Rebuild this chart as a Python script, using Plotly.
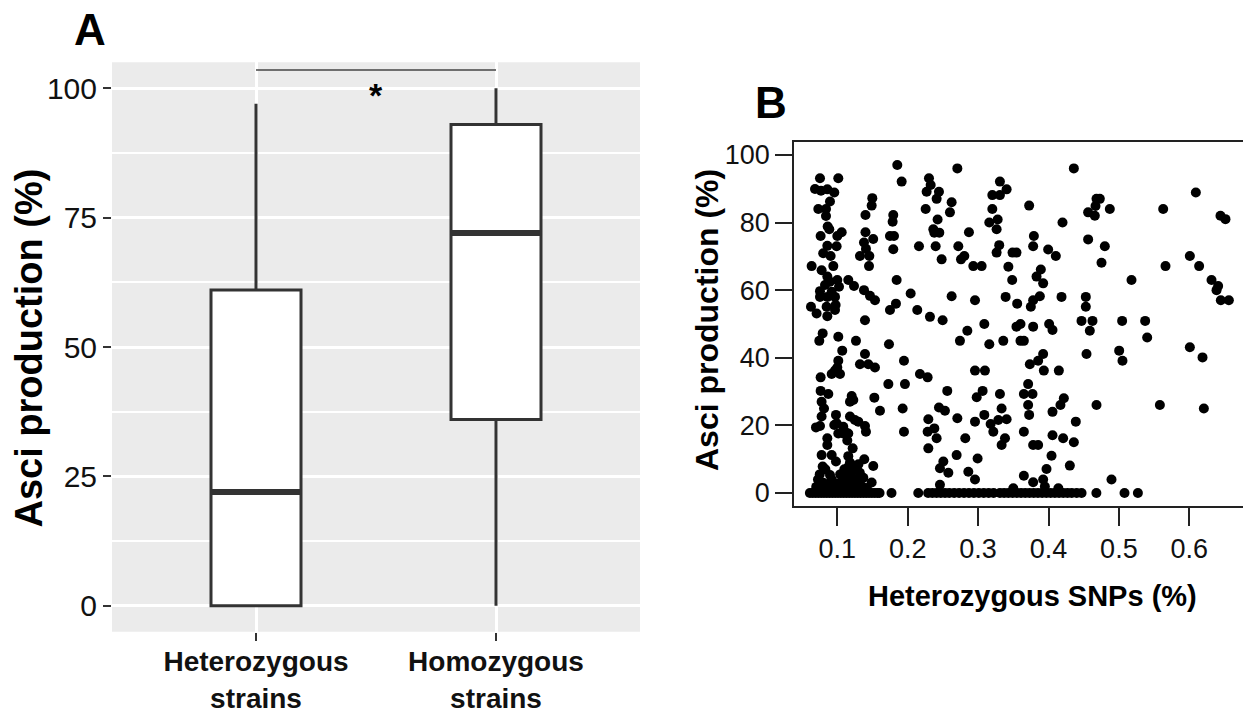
import plotly.graph_objects as go

# ---------------- Panel A data (box plot) ----------------
strain_groups = ["Heterozygous<br>strains", "Homozygous<br>strains"]
box_lower = [0, 0]
box_q1 = [0, 36]
box_median = [22, 72]
box_q3 = [61, 93]
box_upper = [97, 100]
signif_label = "*"
signif_y = 103.5
y_ticks_a = [0, 25, 50, 75, 100]

# ---------------- Panel B data (scatter) ----------------
snp_pct = [
    # upper-left cluster
    0.0754, 0.1014, 0.0683, 0.0768, 0.0858, 0.0957, 0.0896, 0.0730, 0.0839, 0.0839,
    0.0863, 0.0886, 0.0763, 0.1000, 0.1062, 0.0990, 0.0858, 0.0800, 0.0905, 0.0943,
    0.0635, 0.0777, 0.0858, 0.0896, 0.1000, 0.0825, 0.1024, 0.0754, 0.0920, 0.0754,
    0.0858, 0.0967, 0.0626, 0.0706, 0.0858, 0.0967, 0.0848, 0.0976, 0.1156, 0.1237,
    0.1400, 0.1497, 0.1488, 0.1400, 0.1510, 0.1379, 0.1322, 0.1407, 0.1455, 0.1450,
    0.1379, 0.1464, 0.1535, 0.1393,
    0.1852, 0.1914, 0.1795, 0.1786, 0.1748, 0.1805, 0.1795, 0.1843, 0.1833, 0.1748,
    0.2042, 0.2160, 0.2136, 0.2316, 0.2496,
    0.2302, 0.2326, 0.2269, 0.2444, 0.2411, 0.2255, 0.2425, 0.2364, 0.2449, 0.2378,
    0.2397, 0.2482, 0.2624, 0.2600, 0.2705, 0.2870, 0.2719, 0.2804, 0.2757, 0.2932,
    0.3050, 0.2624, 0.2956,
    0.3310, 0.3202, 0.3310, 0.3405, 0.3202, 0.3278, 0.3159, 0.3263, 0.3300, 0.3263,
    0.3430, 0.3391,
    # upper-right
    0.4360, 0.3725, 0.4199, 0.3792, 0.3782, 0.3995, 0.4104, 0.3489, 0.3545, 0.3891,
    0.3830, 0.3924, 0.3484, 0.3555, 0.3877, 0.3782, 0.3749, 0.4185, 0.4530, 0.4530,
    0.4469, 0.4625, 0.5046, 0.5373, 0.4682, 0.4729, 0.4668, 0.4563, 0.4658, 0.4871,
    0.4563, 0.4800, 0.4753, 0.5179, 0.5629, 0.5662, 0.6093, 0.6008, 0.6140, 0.6316,
    0.6410, 0.6387, 0.6448, 0.6562, 0.6443, 0.6514,
    # lower-left
    0.0792, 0.0744, 0.1014, 0.1265, 0.1070, 0.1014, 0.1000, 0.0967, 0.1038, 0.0920,
    0.1393, 0.1322, 0.1440, 0.1535, 0.1734, 0.1947, 0.1725, 0.1961, 0.2174, 0.2283,
    0.1526, 0.1606, 0.0763, 0.0763, 0.0872, 0.0777, 0.0811, 0.0777, 0.0981, 0.0697,
    0.0754, 0.0957, 0.1014, 0.0858, 0.0858, 0.0777, 0.0920, 0.0981, 0.0792, 0.0896,
    0.0725, 0.0848, 0.1204, 0.1227, 0.1180, 0.1180, 0.1250, 0.1298, 0.1393, 0.1407,
    0.1085, 0.1085, 0.1156, 0.1142, 0.1218, 0.1156, 0.1383, 0.1511, 0.1488,
    0.2444, 0.2529, 0.2562, 0.2293, 0.2283, 0.2378, 0.2411, 0.2293, 0.2705, 0.2818,
    0.2695, 0.2506, 0.2458, 0.2577, 0.2993, 0.2861, 0.2956, 0.2458, 0.2956, 0.2980,
    0.3064, 0.2956, 0.3097, 0.3088, 0.3178, 0.3216, 0.3287, 0.3405, 0.3310, 0.3334,
    0.3382, 0.3334, 0.2742, 0.2847, 0.3088, 0.3159, 0.3358,
    0.1100, 0.1150, 0.1200, 0.1250, 0.1200, 0.1150, 0.1300, 0.1080, 0.1260, 0.1320,
    0.1050, 0.1180, 0.1350, 0.1280, 0.1100, 0.0750, 0.0800, 0.0880, 0.0920, 0.0830,
    0.0950, 0.0780, 0.1928, 0.1947, 0.1085, 0.1133, 0.1204, 0.1275, 0.1040, 0.0990,
    0.1370, 0.1420, 0.0700, 0.0860, 0.1160, 0.1300, 0.0991, 0.1109,
    # lower-right
    0.3545, 0.3602, 0.3782, 0.4009, 0.4057, 0.4587, 0.3602, 0.3650, 0.5402, 0.3924,
    0.3853, 0.3735, 0.3934, 0.4147, 0.4540, 0.5004, 0.5051, 0.6008, 0.6188, 0.3711,
    0.3650, 0.3773, 0.3711, 0.3725, 0.4218, 0.4170, 0.4057, 0.4682, 0.5582, 0.6207,
    0.4388, 0.3650, 0.4057, 0.4208, 0.4360, 0.3782, 0.3853, 0.4043, 0.4303, 0.3972,
    0.3650, 0.3782, 0.3924, 0.3948, 0.4895, 0.3500, 0.4140,
    # zero row
    0.061, 0.065, 0.069, 0.073, 0.077, 0.081, 0.085, 0.089, 0.093, 0.097,
    0.101, 0.105, 0.109, 0.113, 0.117, 0.121, 0.125, 0.129, 0.133, 0.137,
    0.141, 0.145, 0.149, 0.153, 0.157, 0.160, 0.177, 0.215,
    0.229, 0.235, 0.241, 0.247, 0.253, 0.259, 0.266, 0.273, 0.280, 0.287,
    0.294, 0.301, 0.308, 0.315, 0.322, 0.331, 0.337, 0.343, 0.349, 0.355,
    0.361, 0.367, 0.373, 0.379, 0.385, 0.391, 0.397, 0.403, 0.409, 0.415,
    0.421, 0.427, 0.433, 0.440, 0.447, 0.468, 0.508, 0.527,
]
asci_pct = [
    93.1, 93.1, 89.9, 89.4, 89.8, 88.9, 86.2, 84.0, 84.0, 81.9,
    78.8, 78.0, 76.0, 76.0, 77.1, 73.0, 73.1, 70.9, 70.1, 67.1,
    67.1, 65.9, 64.0, 62.5, 63.0, 61.5, 61.0, 59.7, 59.5, 58.0,
    58.0, 58.0, 55.1, 53.1, 52.3, 54.1, 55.1, 55.6, 63.0, 61.2,
    82.2, 87.2, 85.0, 77.1, 75.1, 74.1, 70.1, 72.2, 70.1, 67.1,
    60.0, 58.3, 57.0, 51.1,
    97.0, 92.1, 82.2, 80.2, 76.0, 76.0, 72.1, 63.0, 56.0, 54.1,
    59.0, 73.0, 54.1, 52.1, 51.1,
    93.1, 91.1, 89.1, 89.1, 87.0, 84.0, 80.9, 78.0, 77.0, 77.0,
    73.0, 69.1, 86.0, 83.0, 96.0, 77.1, 73.0, 70.1, 69.1, 67.1,
    67.1, 58.2, 57.0,
    92.1, 88.1, 88.1, 89.8, 84.0, 80.9, 80.0, 78.0, 73.3, 71.1,
    66.9, 58.0,
    96.0, 85.0, 80.0, 76.0, 73.0, 72.0, 70.1, 71.1, 71.1, 66.1,
    64.0, 62.0, 63.0, 56.0, 58.2, 57.0, 55.1, 58.0, 58.0, 55.1,
    50.9, 50.9, 50.9, 50.9, 87.0, 87.0, 84.9, 83.0, 82.0, 84.0,
    75.0, 73.0, 68.1, 63.0, 84.0, 67.1, 88.9, 70.1, 67.1, 63.0,
    61.2, 60.0, 57.0, 57.0, 82.0, 81.0,
    47.2, 45.0, 46.2, 45.0, 42.1, 39.1, 37.1, 36.2, 35.2, 35.2,
    41.1, 38.1, 38.1, 37.1, 44.0, 39.1, 32.2, 32.2, 35.2, 34.2,
    28.2, 24.3, 34.2, 30.2, 29.3, 27.0, 25.0, 22.6, 23.1, 19.4,
    19.8, 20.1, 17.6, 16.2, 14.2, 11.2, 11.2, 9.3, 7.8, 5.3,
    4.0, 2.4, 28.7, 27.5, 27.0, 22.6, 21.6, 21.1, 19.8, 18.1,
    19.6, 17.6, 17.6, 15.5, 13.2, 10.9, 10.0, 8.0, 3.1,
    25.3, 24.3, 30.2, 21.8, 18.1, 19.1, 16.2, 13.2, 22.1, 16.2,
    11.2, 9.3, 7.3, 6.0, 10.2, 6.3, 4.0, 2.4, 21.1, 28.3,
    30.2, 36.2, 36.2, 23.1, 20.4, 18.1, 21.6, 21.8, 29.3, 25.0,
    16.2, 14.2, 45.0, 48.0, 50.0, 44.0, 45.0,
    7.0, 5.0, 6.5, 4.0, 2.5, 2.0, 3.0, 3.0, 8.0, 6.0,
    1.0, 9.0, 2.0, 1.2, 1.5, 5.5, 3.0, 2.0, 4.0, 7.0,
    1.2, 1.5, 25.0, 18.1, 4.3, 3.0, 4.8, 2.5, 5.5, 2.8,
    4.5, 1.5, 1.8, 1.0, 7.8, 8.5, 20.6, 18.1,
    49.2, 50.0, 49.2, 50.0, 48.2, 48.0, 45.0, 45.0, 46.0, 41.1,
    39.1, 38.1, 36.2, 36.2, 41.1, 42.1, 39.1, 43.1, 40.1, 32.2,
    29.3, 29.3, 26.0, 23.1, 28.0, 26.0, 24.0, 26.0, 26.0, 25.0,
    21.1, 18.1, 17.1, 16.2, 15.0, 14.2, 14.2, 11.0, 8.1, 7.1,
    5.1, 3.2, 4.0, 1.9, 4.0, 1.4, 1.4,
    0, 0, 0, 0, 0, 0, 0, 0, 0, 0,
    0, 0, 0, 0, 0, 0, 0, 0, 0, 0,
    0, 0, 0, 0, 0, 0, 0, 0,
    0, 0, 0, 0, 0, 0, 0, 0, 0, 0,
    0, 0, 0, 0, 0, 0, 0, 0, 0, 0,
    0, 0, 0, 0, 0, 0, 0, 0, 0, 0,
    0, 0, 0, 0, 0, 0, 0, 0,
]
x_ticks_b = [0.1, 0.2, 0.3, 0.4, 0.5, 0.6]
y_ticks_b = [0, 20, 40, 60, 80, 100]

# ---------------- styling ----------------
W, H = 1243, 717
FONT = "Liberation Sans, Arial, Helvetica, sans-serif"
DARK = "#333333"
positions = list(range(1, len(strain_groups) + 1))
box_w = 0.375


def fx(px):
    return px / W


def fy(py):
    return 1 - py / H


fig = go.Figure()

fig.add_trace(go.Box(
    x=positions, q1=box_q1, median=box_median, q3=box_q3,
    lowerfence=box_lower, upperfence=box_upper,
    width=box_w, fillcolor="white", whiskerwidth=0,
    line=dict(color=DARK, width=3), boxpoints=False,
    xaxis="x", yaxis="y", showlegend=False, hoverinfo="skip",
))

# thicker median bars (ggplot style)
mx, my = [], []
for p, m in zip(positions, box_median):
    mx += [p - box_w / 2, p + box_w / 2, None]
    my += [m, m, None]
fig.add_trace(go.Scatter(x=mx, y=my, mode="lines", line=dict(color=DARK, width=6),
                         xaxis="x", yaxis="y", showlegend=False, hoverinfo="skip"))

# significance bar
fig.add_trace(go.Scatter(x=[positions[0], positions[-1]], y=[signif_y, signif_y], mode="lines",
                         line=dict(color="#444444", width=1.5),
                         xaxis="x", yaxis="y", showlegend=False, hoverinfo="skip"))

fig.add_trace(go.Scatter(
    x=snp_pct, y=asci_pct, mode="markers",
    marker=dict(color="black", size=10, line=dict(width=0)),
    xaxis="x2", yaxis="y2", showlegend=False,
))

# grey ggplot panel
fig.add_shape(type="rect", xref="x domain", yref="y domain", x0=0, x1=1, y0=0, y1=1,
              fillcolor="#EBEBEB", line=dict(width=0), layer="below")

fig.update_layout(
    width=W, height=H, autosize=False,
    margin=dict(l=0, r=0, t=0, b=0),
    paper_bgcolor="white", plot_bgcolor="rgba(0,0,0,0)",
    font=dict(family=FONT, color="#111111"),
    showlegend=False,
    xaxis=dict(
        domain=[fx(112), fx(640)], range=[0.4, 2.6], anchor="y",
        tickmode="array", tickvals=positions, ticktext=strain_groups,
        ticks="outside", ticklen=8, tickwidth=2, tickcolor=DARK,
        ticklabelstandoff=-3,
        showgrid=True, gridcolor="white", gridwidth=3,
        zeroline=False, showline=False, automargin=False,
        tickfont=dict(size=28, family=FONT, color="#111111", weight="bold"),
    ),
    yaxis=dict(
        domain=[fy(631.7), fy(62.3)], range=[-5, 105], anchor="x",
        tickmode="array", tickvals=y_ticks_a,
        ticks="outside", ticklen=8, tickwidth=2, tickcolor=DARK,
        showgrid=True, gridcolor="white", gridwidth=3,
        minor=dict(tickmode="linear", tick0=0, dtick=12.5, showgrid=True,
                   gridcolor="white", gridwidth=1.5, ticks=""),
        zeroline=False, showline=False, automargin=False,
        tickfont=dict(size=30, family=FONT, color="#111111"),
    ),
    xaxis2=dict(
        domain=[fx(794.3), 1.0], range=[0.0389, 0.6763], anchor="y2",
        tickmode="array", tickvals=x_ticks_b, tickformat=".1f",
        ticks="outside", ticklen=18, tickwidth=1.5, tickcolor="#222222",
        showline=True, mirror=True, linecolor="#222222", linewidth=2,
        showgrid=False, zeroline=False, automargin=False,
        tickfont=dict(size=27, family=FONT, color="#111111"),
    ),
    yaxis2=dict(
        domain=[fy(505.7), fy(141.7)], range=[-3.76, 103.9], anchor="x2",
        tickmode="array", tickvals=y_ticks_b,
        ticks="outside", ticklen=17, tickwidth=1.5, tickcolor="#222222",
        showline=True, mirror=False, linecolor="#222222", linewidth=2,
        showgrid=False, zeroline=False, automargin=False,
        tickfont=dict(size=27, family=FONT, color="#111111"),
    ),
)

annos = [
    dict(text="<b>A</b>", x=fx(90), y=fy(29), size=44, angle=0),
    dict(text="<b>B</b>", x=fx(771), y=fy(103), size=44, angle=0),
    dict(text="<b>Asci production (%)</b>", x=fx(28.5), y=fy(348), size=38, angle=-90),
    dict(text="<b>Asci production (%)</b>", x=fx(707), y=fy(320), size=32, angle=-90),
    dict(text="<b>Heterozygous SNPs (%)</b>", x=fx(1032), y=fy(596), size=29, angle=0),
]
for a in annos:
    fig.add_annotation(text=a["text"], x=a["x"], y=a["y"], xref="paper", yref="paper",
                       xanchor="center", yanchor="middle", showarrow=False,
                       textangle=a["angle"], font=dict(size=a["size"], family=FONT, color="black"))

fig.add_annotation(text="<b>" + signif_label + "</b>", x=sum(positions) / len(positions), y=signif_y - 4.8,
                   xref="x", yref="y", xanchor="center", yanchor="middle", showarrow=False,
                   font=dict(size=34, family=FONT, color="black"))

fig.write_html("out.html", config={"displayModeBar": False},
               post_script="document.body.style.margin='0px';document.body.style.overflow='hidden';")
